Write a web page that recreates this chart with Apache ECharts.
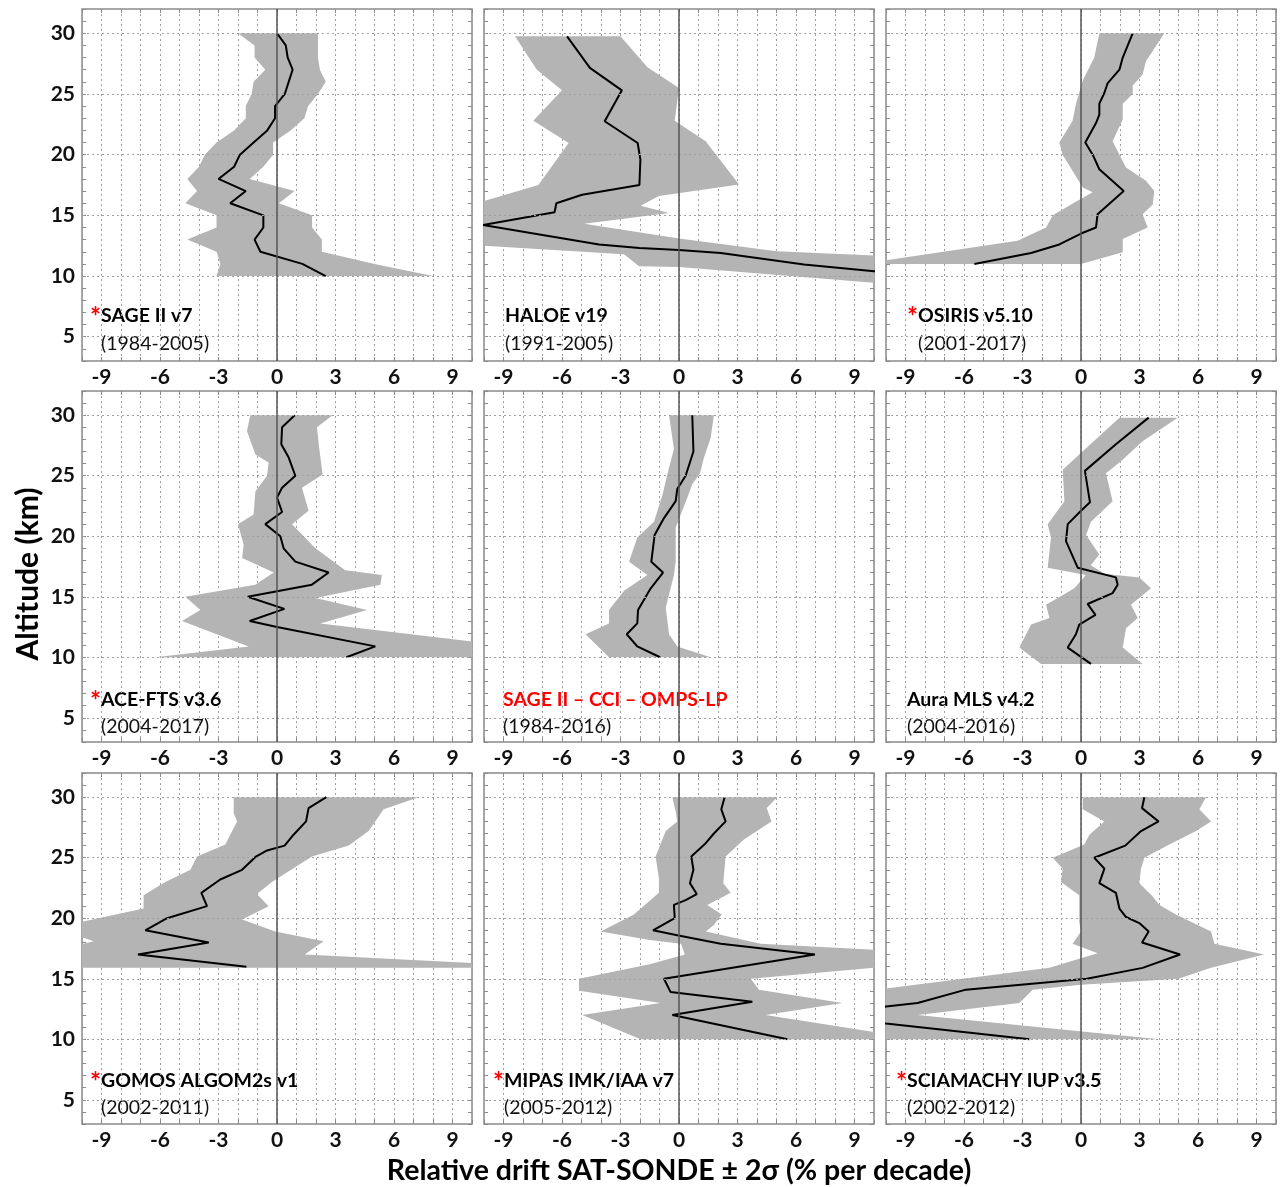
<!DOCTYPE html>
<html><head><meta charset="utf-8">
<script src="https://cdn.jsdelivr.net/npm/echarts@6/dist/echarts.min.js"></script>
<style>html,body{margin:0;padding:0;background:#fff}#c{width:1280px;height:1187px}</style>
</head><body><div id="c"></div>
<script>
// ---------- tick labels ----------
const xLabelValues = [-9, -6, -3, 0, 3, 6, 9];
const yLabelValues = [5, 10, 15, 20, 25, 30];

// ---------- SAGE II v7 ----------
const sage_alt  = [30,29,28,27,26,25,24,23,22,21,20,19,18,17,16,15,14,13,12,11,10];
const sage_mean = [0.0,0.45,0.55,0.8,0.6,0.4,-0.1,-0.1,-0.5,-1.2,-1.9,-2.2,-3.0,-1.6,-2.4,-0.7,-0.7,-1.15,-0.85,1.3,2.5];
const sage_hi   = [2.1,2.1,2.1,2.2,2.5,2.1,1.6,1.4,0.7,-0.2,-0.2,-0.7,-1.4,0.9,0.1,1.8,1.8,2.3,2.3,5.0,8.0];
const sage_lo   = [-2.0,-1.15,-1.15,-0.6,-1.2,-1.3,-1.6,-1.6,-2.2,-3.1,-3.7,-4.0,-4.6,-4.1,-4.7,-3.1,-3.1,-4.6,-3.1,-2.9,-3.1];

// ---------- HALOE v19 ----------
const haloe_meanAlt = [29.75,27.15,25.3,22.75,20.96,19.6,17.5,16.7,16.0,15.25,14.2,12.6,12.3,12.15,11.9,10.95,10.4,10.0];
const haloe_mean    = [-5.74,-4.57,-2.93,-3.81,-2.12,-1.98,-2.03,-4.97,-6.29,-6.38,-10.05,-4.1,-2.03,0,2.14,6.41,10.0,12.6];
const haloe_hiAlt   = [29.75,27.2,25.5,22.8,21.1,17.55,16.6,15.8,15.2,14.3,13.1,12.05,11.7,10.0];
const haloe_hi      = [-3.0,-1.62,0,-0.22,1.37,3.08,-1.03,-1.97,-0.51,-4.87,0,5.0,10.0,18.0];
const haloe_loAlt   = [29.75,27.0,25.3,22.8,20.96,17.5,16.15,15.2,14.2,13.2,12.5,11.8,10.8,10.75,9.45,9.0];
const haloe_lo      = [-8.41,-7.29,-6.0,-7.47,-5.66,-7.21,-10.05,-12,-14,-12,-10,-2.82,-2.05,0,10,15];

// ---------- OSIRIS v5.10 ----------
const osiris_meanAlt = [30,28.0,27.0,25.9,25.1,24.2,23.3,22.6,21.0,20.0,18.8,17.0,15.1,14.0,13.5,12.6,11.9,11.0];
const osiris_mean    = [2.65,2.14,1.97,1.37,1.2,0.94,0.94,0.77,0.22,0.6,0.94,2.19,0.85,0.77,0,-1.11,-2.56,-5.47];
const osiris_hiAlt   = [30,28.55,27.7,26.6,25.7,25.0,24.2,22.9,21.1,20.0,18.95,17.85,17.0,15.9,15.1,14.0,13.05,11.95,11.0];
const osiris_hi      = [4.27,3.68,3.33,3.16,2.65,2.65,2.14,2.14,1.62,1.97,2.31,3.33,3.76,3.68,3.16,3.42,2.14,2.14,0];
const osiris_loAlt   = [30,28.0,26.1,24.2,22.8,21.0,20.0,18.65,17.3,16.9,15.9,15.0,14.0,12.9,11.3,11.0];
const osiris_lo      = [0.94,0.68,0.09,-0.26,-0.43,-1.11,-0.94,-0.43,0.09,0.6,-0.51,-1.45,-1.79,-3.25,-10,-11];

// ---------- ACE-FTS v3.6 ----------
const ace_meanAlt = [30,29.0,27.6,26.5,25.0,24.0,23.2,22.0,21.0,20.0,19.0,17.9,17.0,16.0,15.0,14.0,13.0,12.5,10.9,10.0];
const ace_mean    = [0.91,0.26,0.22,0.6,0.94,0.26,0,0.26,-0.6,0.17,0.34,0.94,2.65,1.79,-1.5,0.38,-1.4,0,5.04,3.56];
const ace_hiAlt   = [30,29.0,27.2,25.1,24.0,22.1,21.0,19.0,17.2,16.8,16.0,14.9,13.9,12.8,11.3,10.5,10.0];
const ace_hi      = [2.85,2.05,2.17,2.34,1.28,1.62,0.77,1.97,3.5,5.38,5.3,1.97,4.62,2.22,10,12,12];
const ace_loAlt   = [30,28.7,26.75,26.1,25.0,23.7,21.8,21.0,19.3,18.2,17.0,16.0,15.0,13.9,13.0,10.9,10.0];
const ace_lo      = [-1.37,-1.54,-1.11,-0.43,-0.51,-1.11,-1.2,-2.0,-1.71,-1.79,-0.17,-1.11,-4.7,-3.93,-4.87,-1.45,-6.24];

// ---------- SAGE II - CCI - OMPS-LP ----------
const merged_meanAlt = [30,27.0,25.0,23.9,22.9,21.5,20.1,17.9,17.0,15.7,13.9,12.8,11.9,10.9,10.0];
const merged_mean    = [0.68,0.74,0.34,-0.09,-0.17,-0.77,-1.25,-1.42,-0.82,-1.45,-2.1,-2.14,-2.68,-2.14,-0.97];
const merged_hiAlt   = [30,28.1,26.5,25.2,24.3,23.2,21.8,20.7,17.9,16.8,14.1,11.9,10.9,10.0];
const merged_hi      = [1.79,1.62,1.28,1.08,0.68,0.43,0.09,-0.17,-0.17,-0.26,-0.68,-0.51,-0.09,1.62];
const merged_loAlt   = [30,27.2,25.1,23.4,21.2,19.9,17.9,16.8,15.5,13.9,12.8,11.9,10.0];
const merged_lo      = [-0.51,-0.26,-0.6,-0.85,-1.28,-2.14,-2.56,-1.62,-2.82,-3.59,-3.59,-4.79,-3.59];

// ---------- Aura MLS v4.2 ----------
const mls_meanAlt = [29.8,27.6,25.4,22.8,22.1,21.0,19.6,17.4,16.6,16.0,15.3,14.4,13.5,12.7,11.9,10.8,9.45];
const mls_mean    = [3.47,1.79,0.2,0.46,0,-0.68,-0.77,-0.17,1.79,1.88,1.62,0.34,0.74,-0.09,-0.26,-0.68,0.51];
const mls_hiAlt   = [29.8,27.85,26.2,25.2,22.9,21.2,20.1,18.5,17.6,16.9,16.6,15.7,14.35,13.25,12.4,10.8,9.45];
const mls_hi      = [4.96,3.16,2.05,1.28,1.62,0.51,0.26,0.94,0.5,1.2,2.99,3.59,2.56,2.91,2.31,2.14,3.16];
const mls_loAlt   = [29.8,26.75,25.5,22.9,21.0,19.9,17.4,16.8,15.7,14.35,13.25,12.7,10.8,9.45];
const mls_lo      = [1.97,-0.09,-0.94,-0.85,-1.71,-1.54,-1.71,0.25,-0.34,-1.79,-1.62,-2.56,-3.16,-2.05];

// ---------- GOMOS ALGOM2s v1 ----------
const gomos_meanAlt = [30,29.1,28.0,26.9,26.0,25.6,25.1,24.0,23.2,22.1,21.0,20.0,19.0,18.0,17.0,16.0];
const gomos_mean    = [2.53,1.62,1.49,0.85,0.39,-0.51,-1.08,-1.79,-2.91,-3.88,-3.59,-5.64,-6.75,-3.5,-7.13,-1.57];
const gomos_hiAlt   = [30,29.0,27.2,26.0,25.1,23.0,22.0,21.0,19.9,18.9,18.1,17.0,16.3,15.9];
const gomos_hi      = [7.26,5.47,4.7,3.68,1.79,-0.26,-1.03,-0.43,-1.79,-0.09,2.39,1.42,10,11];
const gomos_loAlt   = [30,28.7,28.0,26.1,25.1,24.0,23.0,21.9,20.8,19.7,19.0,18.1,17.5,15.9];
const gomos_lo      = [-2.22,-2.22,-2.05,-2.65,-4.1,-4.44,-5.73,-6.84,-6.84,-10,-11,-9.4,-11,-11];

// ---------- MIPAS IMK/IAA v7 ----------
const mipas_meanAlt = [30,29.0,28.0,27.0,26.2,25.1,24.0,22.9,22.0,21.5,21.1,20.0,19.0,18.6,17.9,17.0,15.0,13.9,13.1,12.0,10.0];
const mipas_mean    = [2.34,2.17,2.39,1.79,1.37,0.63,0.74,0.56,0.91,0.34,-0.26,-0.22,-1.33,-0.09,2.14,6.97,-0.77,-0.43,3.76,-0.34,5.56];
const mipas_hiAlt   = [30,29.1,28.0,26.5,25.1,22.9,22.1,21.1,20.3,19.45,18.9,17.9,17.4,17.0,16.3,15.9,15.0,14.1,13.0,12.0,10.6,10.0];
const mipas_hi      = [5.04,4.5,4.74,3.33,2.39,2.27,2.65,1.45,2.19,1.79,1.37,4.19,10,12,11,10,3.68,4.1,8.38,4.44,10,11];
const mipas_loAlt   = [30,28.8,28.0,27.2,25.1,23.3,22.1,20.3,18.9,18.2,17.9,17.0,16.2,15.0,14.0,13.0,12.0,10.0];
const mipas_lo      = [-0.34,-0.17,-0.09,-0.68,-1.2,-1.03,-1.03,-2.31,-4.02,-1.5,0.1,0.3,-1.5,-5.13,-5.13,-0.94,-4.96,-1.97];

// ---------- SCIAMACHY IUP v3.5 ----------
const scia_meanAlt = [30,29.1,28.0,27.2,26.0,25.0,24.1,22.9,22.1,20.8,20.1,19.6,18.9,18.0,17.0,15.9,15.0,14.1,13.0,12.7,12.0,11.3,10.0];
const scia_mean    = [3.25,3.13,3.98,3.08,2.27,0.68,1.2,0.94,1.79,1.97,2.31,2.99,3.47,3.13,5.08,3.16,0.3,-5.9,-8.38,-10,-13,-10,-2.65];
const scia_hiAlt   = [30,29.0,28.0,27.2,26.1,25.0,24.1,22.9,21.8,21.1,20.3,18.9,17.9,17.0,15.9,15.0,14.5,14.1,13.0,12.0,10.0];
const scia_hi      = [6.41,6.07,6.67,5.9,4.53,3.25,3.08,2.99,3.68,4.02,4.87,6.67,6.84,9.4,6.67,5.0,0.0,-2.48,-3.16,-8.38,4.02];
const scia_loAlt   = [30,29.0,28.0,26.9,26.1,25.0,24.1,23.0,21.9,19.7,18.9,17.9,17.1,15.9,14.2,13.5,10.0];
const scia_lo      = [0.09,0.09,1.2,0.43,0.17,-1.45,-0.94,-1.03,-0.09,-0.09,0,-0.43,0.85,-1.62,-10,-12,-12];

// ---------- panel texts ----------
const panelNames = ['SAGE II v7','HALOE v19','OSIRIS v5.10','ACE-FTS v3.6','SAGE II \u2013 CCI \u2013 OMPS-LP','Aura MLS v4.2','GOMOS ALGOM2s v1','MIPAS IMK/IAA v7','SCIAMACHY IUP v3.5'];
const panelYears = ['(1984-2005)','(1991-2005)','(2001-2017)','(2004-2017)','(1984-2016)','(2004-2016)','(2002-2011)','(2005-2012)','(2002-2012)'];
const panelStar  = [true,false,true,true,false,false,true,true,true];
const panelRed   = [false,false,false,false,true,false,false,false,false];

const panels = [
  {meanAlt: sage_alt, mean: sage_mean, hiAlt: sage_alt, hi: sage_hi, loAlt: sage_alt, lo: sage_lo},
  {meanAlt: haloe_meanAlt, mean: haloe_mean, hiAlt: haloe_hiAlt, hi: haloe_hi, loAlt: haloe_loAlt, lo: haloe_lo},
  {meanAlt: osiris_meanAlt, mean: osiris_mean, hiAlt: osiris_hiAlt, hi: osiris_hi, loAlt: osiris_loAlt, lo: osiris_lo},
  {meanAlt: ace_meanAlt, mean: ace_mean, hiAlt: ace_hiAlt, hi: ace_hi, loAlt: ace_loAlt, lo: ace_lo},
  {meanAlt: merged_meanAlt, mean: merged_mean, hiAlt: merged_hiAlt, hi: merged_hi, loAlt: merged_loAlt, lo: merged_lo},
  {meanAlt: mls_meanAlt, mean: mls_mean, hiAlt: mls_hiAlt, hi: mls_hi, loAlt: mls_loAlt, lo: mls_lo},
  {meanAlt: gomos_meanAlt, mean: gomos_mean, hiAlt: gomos_hiAlt, hi: gomos_hi, loAlt: gomos_loAlt, lo: gomos_lo},
  {meanAlt: mipas_meanAlt, mean: mipas_mean, hiAlt: mipas_hiAlt, hi: mipas_hi, loAlt: mipas_loAlt, lo: mipas_lo},
  {meanAlt: scia_meanAlt, mean: scia_mean, hiAlt: scia_hiAlt, hi: scia_hi, loAlt: scia_loAlt, lo: scia_lo}
];

// ---------- layout ----------
const colLeft = [82, 484, 886];
const rowTop = [9, 391, 773];
const rowH = [352, 351, 351];
const plotW = 390;
const nameDx = [19, 21, 32, 19, 19, 21, 19, 20, 21];
const nameY = [316, 700, 1081];
const yearY = [344, 727, 1108];
const FONT = 'Lato, "Open Sans", sans-serif';
const frameColor = '#8a8a8a';

const chart = echarts.init(document.getElementById('c'), null, {renderer: 'canvas'});
const grids = [], xAxes = [], yAxes = [], series = [], graphics = [];

panels.forEach((p, gi) => {
  const r = Math.floor(gi / 3), c = gi % 3;
  grids.push({left: colLeft[c], top: rowTop[r], width: plotW, height: rowH[r],
    show: true, borderColor: frameColor, borderWidth: 1.5, backgroundColor: 'transparent'});
  xAxes.push({type: 'value', gridIndex: gi, min: -10, max: 10, interval: 1, position: 'bottom',
    axisLine: {show: false},
    axisTick: {show: true, inside: true, length: 4, lineStyle: {color: frameColor}},
    axisLabel: {show: true, margin: 6, color: '#111', fontFamily: FONT, fontWeight: 'bold', fontSize: 21,
      formatter: v => xLabelValues.includes(v) ? String(v) : ''},
    splitLine: {show: true, lineStyle: {color: '#a0a0a0', type: [2, 3], width: 1}}});
  xAxes.push({type: 'value', gridIndex: gi, min: -10, max: 10, interval: 1, position: 'top',
    axisLine: {show: false}, axisLabel: {show: false}, splitLine: {show: false},
    axisTick: {show: true, inside: true, length: 4, lineStyle: {color: frameColor}}});
  yAxes.push({type: 'value', gridIndex: gi, min: 3, max: 32, interval: 1, position: 'left',
    axisLine: {show: false, onZero: false},
    axisTick: {show: true, inside: true, length: 4, lineStyle: {color: frameColor}},
    axisLabel: {show: c === 0, margin: 7, color: '#111', fontFamily: FONT, fontWeight: 'bold', fontSize: 21,
      formatter: v => yLabelValues.includes(v) ? String(v) : ''},
    splitLine: {show: false}});
  yAxes.push({type: 'value', gridIndex: gi, min: 3, max: 32, interval: 1, position: 'right',
    axisLine: {show: false, onZero: false}, axisLabel: {show: false}, splitLine: {show: false},
    axisTick: {show: true, inside: true, length: 4, lineStyle: {color: frameColor}}});

  const xi = gi * 2, yi = gi * 2;
  series.push({type: 'line', xAxisIndex: xi, yAxisIndex: yi, z: 1, data: [], silent: true,
    markLine: {silent: true, symbol: ['none', 'none'], label: {show: false}, animation: false,
      lineStyle: {color: '#a0a0a0', type: [2, 3], width: 1},
      data: yLabelValues.map(v => ({yAxis: v}))}});
  series.push({type: 'custom', xAxisIndex: xi, yAxisIndex: yi, z: 2, silent: true, clip: true,
    data: [[0, 20]],
    renderItem: function (params, api) {
      const pts = [];
      for (let i = 0; i < p.hiAlt.length; i++) pts.push(api.coord([p.hi[i], p.hiAlt[i]]));
      for (let i = p.loAlt.length - 1; i >= 0; i--) pts.push(api.coord([p.lo[i], p.loAlt[i]]));
      const cs = params.coordSys;
      return {type: 'polygon', shape: {points: pts}, style: {fill: '#b4b4b4', stroke: null},
        clipPath: {type: 'rect', shape: {x: cs.x, y: cs.y, width: cs.width, height: cs.height}}};
    }});
  series.push({type: 'line', xAxisIndex: xi, yAxisIndex: yi, z: 3, silent: true, clip: true,
    showSymbol: false, symbol: 'none',
    data: p.meanAlt.map((a, i) => [p.mean[i], a]),
    lineStyle: {color: '#000', width: 2},
    markLine: {silent: true, symbol: ['none', 'none'], label: {show: false}, animation: false,
      lineStyle: {color: '#555', type: 'solid', width: 1.5},
      data: [{xAxis: 0}]}});

  const nx = colLeft[c] + nameDx[gi];
  if (panelStar[gi]) {
    graphics.push({type: 'text', x: nx, y: nameY[r] + 2, style: {text: '*', fill: '#ff0000',
      font: 'bold 26px ' + FONT, align: 'right', verticalAlign: 'middle'}});
  }
  graphics.push({type: 'text', x: nx, y: nameY[r], style: {text: panelNames[gi],
    fill: panelRed[gi] ? '#ff0000' : '#000', font: 'bold 19.5px ' + FONT, align: 'left', verticalAlign: 'middle'}});
  graphics.push({type: 'text', x: nx, y: yearY[r], style: {text: panelYears[gi],
    fill: '#111', font: '19.5px ' + FONT, align: 'left', verticalAlign: 'middle'}});
});

graphics.push({type: 'text', x: 28, y: 574, rotation: Math.PI / 2, style: {text: 'Altitude (km)',
  fill: '#000', font: 'bold 30px ' + FONT, align: 'center', verticalAlign: 'middle'}});
graphics.push({type: 'text', x: 679, y: 1171, style: {text: 'Relative drift SAT-SONDE \u00b1 2\u03c3 (% per decade)',
  fill: '#000', font: 'bold 28.5px ' + FONT, align: 'center', verticalAlign: 'middle'}});

chart.setOption({
  animation: false,
  backgroundColor: '#fff',
  grid: grids, xAxis: xAxes, yAxis: yAxes, series: series,
  graphic: graphics
});
</script>
</body></html>
